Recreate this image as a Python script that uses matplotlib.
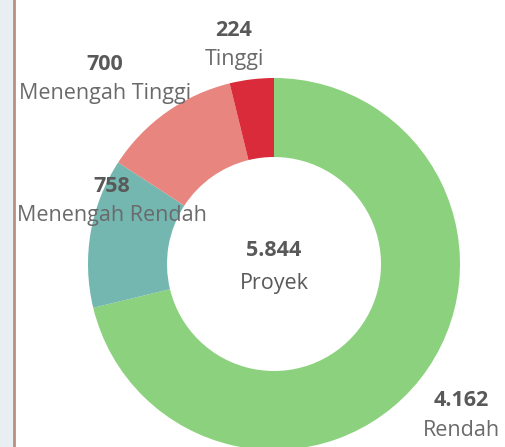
import matplotlib.pyplot as plt
from matplotlib.patches import Rectangle

# data
kategori = ['Rendah', 'Menengah Rendah', 'Menengah Tinggi', 'Tinggi']
jumlah = [4162, 758, 700, 224]
warna = ['#8cd17d', '#74b6b0', '#e9857f', '#d92b3a']
total_label = '5.844'
total_sub = 'Proyek'

# label anchor positions (pixel coords, y from top)
label_pos = [(461, 400), (112, 186), (105, 64), (234, 30)]

plt.rcParams['font.family'] = ['Open Sans', 'DejaVu Sans']

fig = plt.figure(figsize=(5.05, 4.47), dpi=100)
ax = fig.add_axes([0, 0, 1, 1])

# left panel strip + border
ax.add_patch(Rectangle((0, 0), 13, 447, color='#e9eef3', zorder=0))
ax.axvline(14, color='#b8907e', lw=2, zorder=1)

cx, cy, r = 274, 447 - 264, 186
ax.pie(jumlah, colors=warna, startangle=90, counterclock=False,
       center=(cx, cy), radius=r, wedgeprops=dict(width=r - 107, linewidth=0),
       frame=True)
ax.set_xlim(0, 505)
ax.set_ylim(0, 447)
ax.set_aspect('equal')
ax.axis('off')

def fmt(v):
    return f'{v:,}'.replace(',', '.')

fs = 15.5
for k, v, (x, y) in zip(kategori, jumlah, label_pos):
    ax.text(x, 447 - y, fmt(v), ha='center', va='center', fontsize=fs,
            fontweight='bold', color='#595959')
    ax.text(x, 447 - y - 30, k, ha='center', va='center', fontsize=fs,
            color='#6a6a6a')

ax.text(cx, 447 - 250, total_label, ha='center', va='center', fontsize=fs,
        fontweight='bold', color='#595959')
ax.text(cx, 447 - 283, total_sub, ha='center', va='center', fontsize=fs,
        color='#595959')

fig.savefig('out.png', dpi=100)
